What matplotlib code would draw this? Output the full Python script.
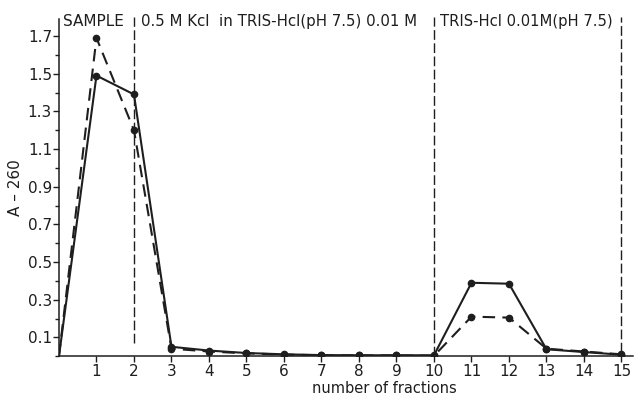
import matplotlib
matplotlib.use("Agg")
import matplotlib.pyplot as plt

# fraction numbers and A-260 readings
fractions = list(range(0, 16))
solid_a260 = [0.0, 1.49, 1.39, 0.05, 0.03, 0.017, 0.01, 0.006, 0.005, 0.005, 0.005,
              0.39, 0.385, 0.037, 0.022, 0.008]
dashed_a260 = [0.0, 1.69, 1.20, 0.04, 0.025, 0.015, 0.009, 0.005, 0.004, 0.004, 0.002,
               0.21, 0.205, 0.04, 0.025, 0.01]

yticks_major = [0.1, 0.3, 0.5, 0.7, 0.9, 1.1, 1.3, 1.5, 1.7]
yticks_minor = [0.0, 0.2, 0.4, 0.6, 0.8, 1.0, 1.2, 1.4, 1.6]
xticks = list(range(1, 16))
separators = [2, 10, 15]
sep_bottom = [0.07, 0.0, 0.02]

ink = "#1e1e1e"
plt.rcParams['font.family'] = ['DejaVu Sans']

fig = plt.figure(figsize=(6.34, 3.98), dpi=100)
ax = fig.add_axes([0.093, 0.105, 0.905, 0.847])

ax.plot(fractions, solid_a260, color=ink, lw=1.5, marker='o', ms=4.5,
        markevery=list(range(1, 16)))
ax.plot(fractions, dashed_a260, color=ink, lw=1.5, ls=(0, (6, 3.5)), marker='o', ms=4.5,
        markevery=list(range(1, 16)))

for xs, yb in zip(separators, sep_bottom):
    ax.plot([xs, xs], [yb, 1.8], color=ink, lw=1.0, ls=(0, (7, 2.5)), clip_on=False)

ax.set_xlim(0, 15.3)
ax.set_ylim(0, 1.79)
ax.set_xticks(xticks)
ax.set_yticks(yticks_major)
ax.set_yticklabels([("%.1f" % v) for v in yticks_major])
ax.set_yticks(yticks_minor, minor=True)

for s in ['top', 'right']:
    ax.spines[s].set_visible(False)
for s in ['left', 'bottom']:
    ax.spines[s].set_color(ink)
    ax.spines[s].set_linewidth(1.1)

ax.tick_params(axis='both', which='major', labelsize=11, colors=ink, length=4, width=1)
ax.tick_params(axis='y', which='minor', length=3, width=1, colors=ink)
ax.tick_params(axis='y', pad=1)
ax.tick_params(axis='x', pad=1.5)

ax.text(0.12, 1.775, "SAMPLE", fontsize=11, color=ink, va='center', ha='left', clip_on=False)
ax.text(2.2, 1.775, "0.5 M Kcl  in TRIS-Hcl(pH 7.5) 0.01 M", fontsize=10.8, color=ink,
        va='center', ha='left', clip_on=False)
ax.text(10.15, 1.775, "TRIS-Hcl 0.01M(pH 7.5)", fontsize=10.6, color=ink,
        va='center', ha='left', clip_on=False)

ax.set_xlabel("number of fractions", fontsize=10.5, color=ink)
ax.xaxis.set_label_coords(0.567, -0.074)
ax.set_ylabel("A – 260", fontsize=11, color=ink)
ax.yaxis.set_label_coords(-0.062, 0.5)

fig.savefig("out.png", dpi=100)
